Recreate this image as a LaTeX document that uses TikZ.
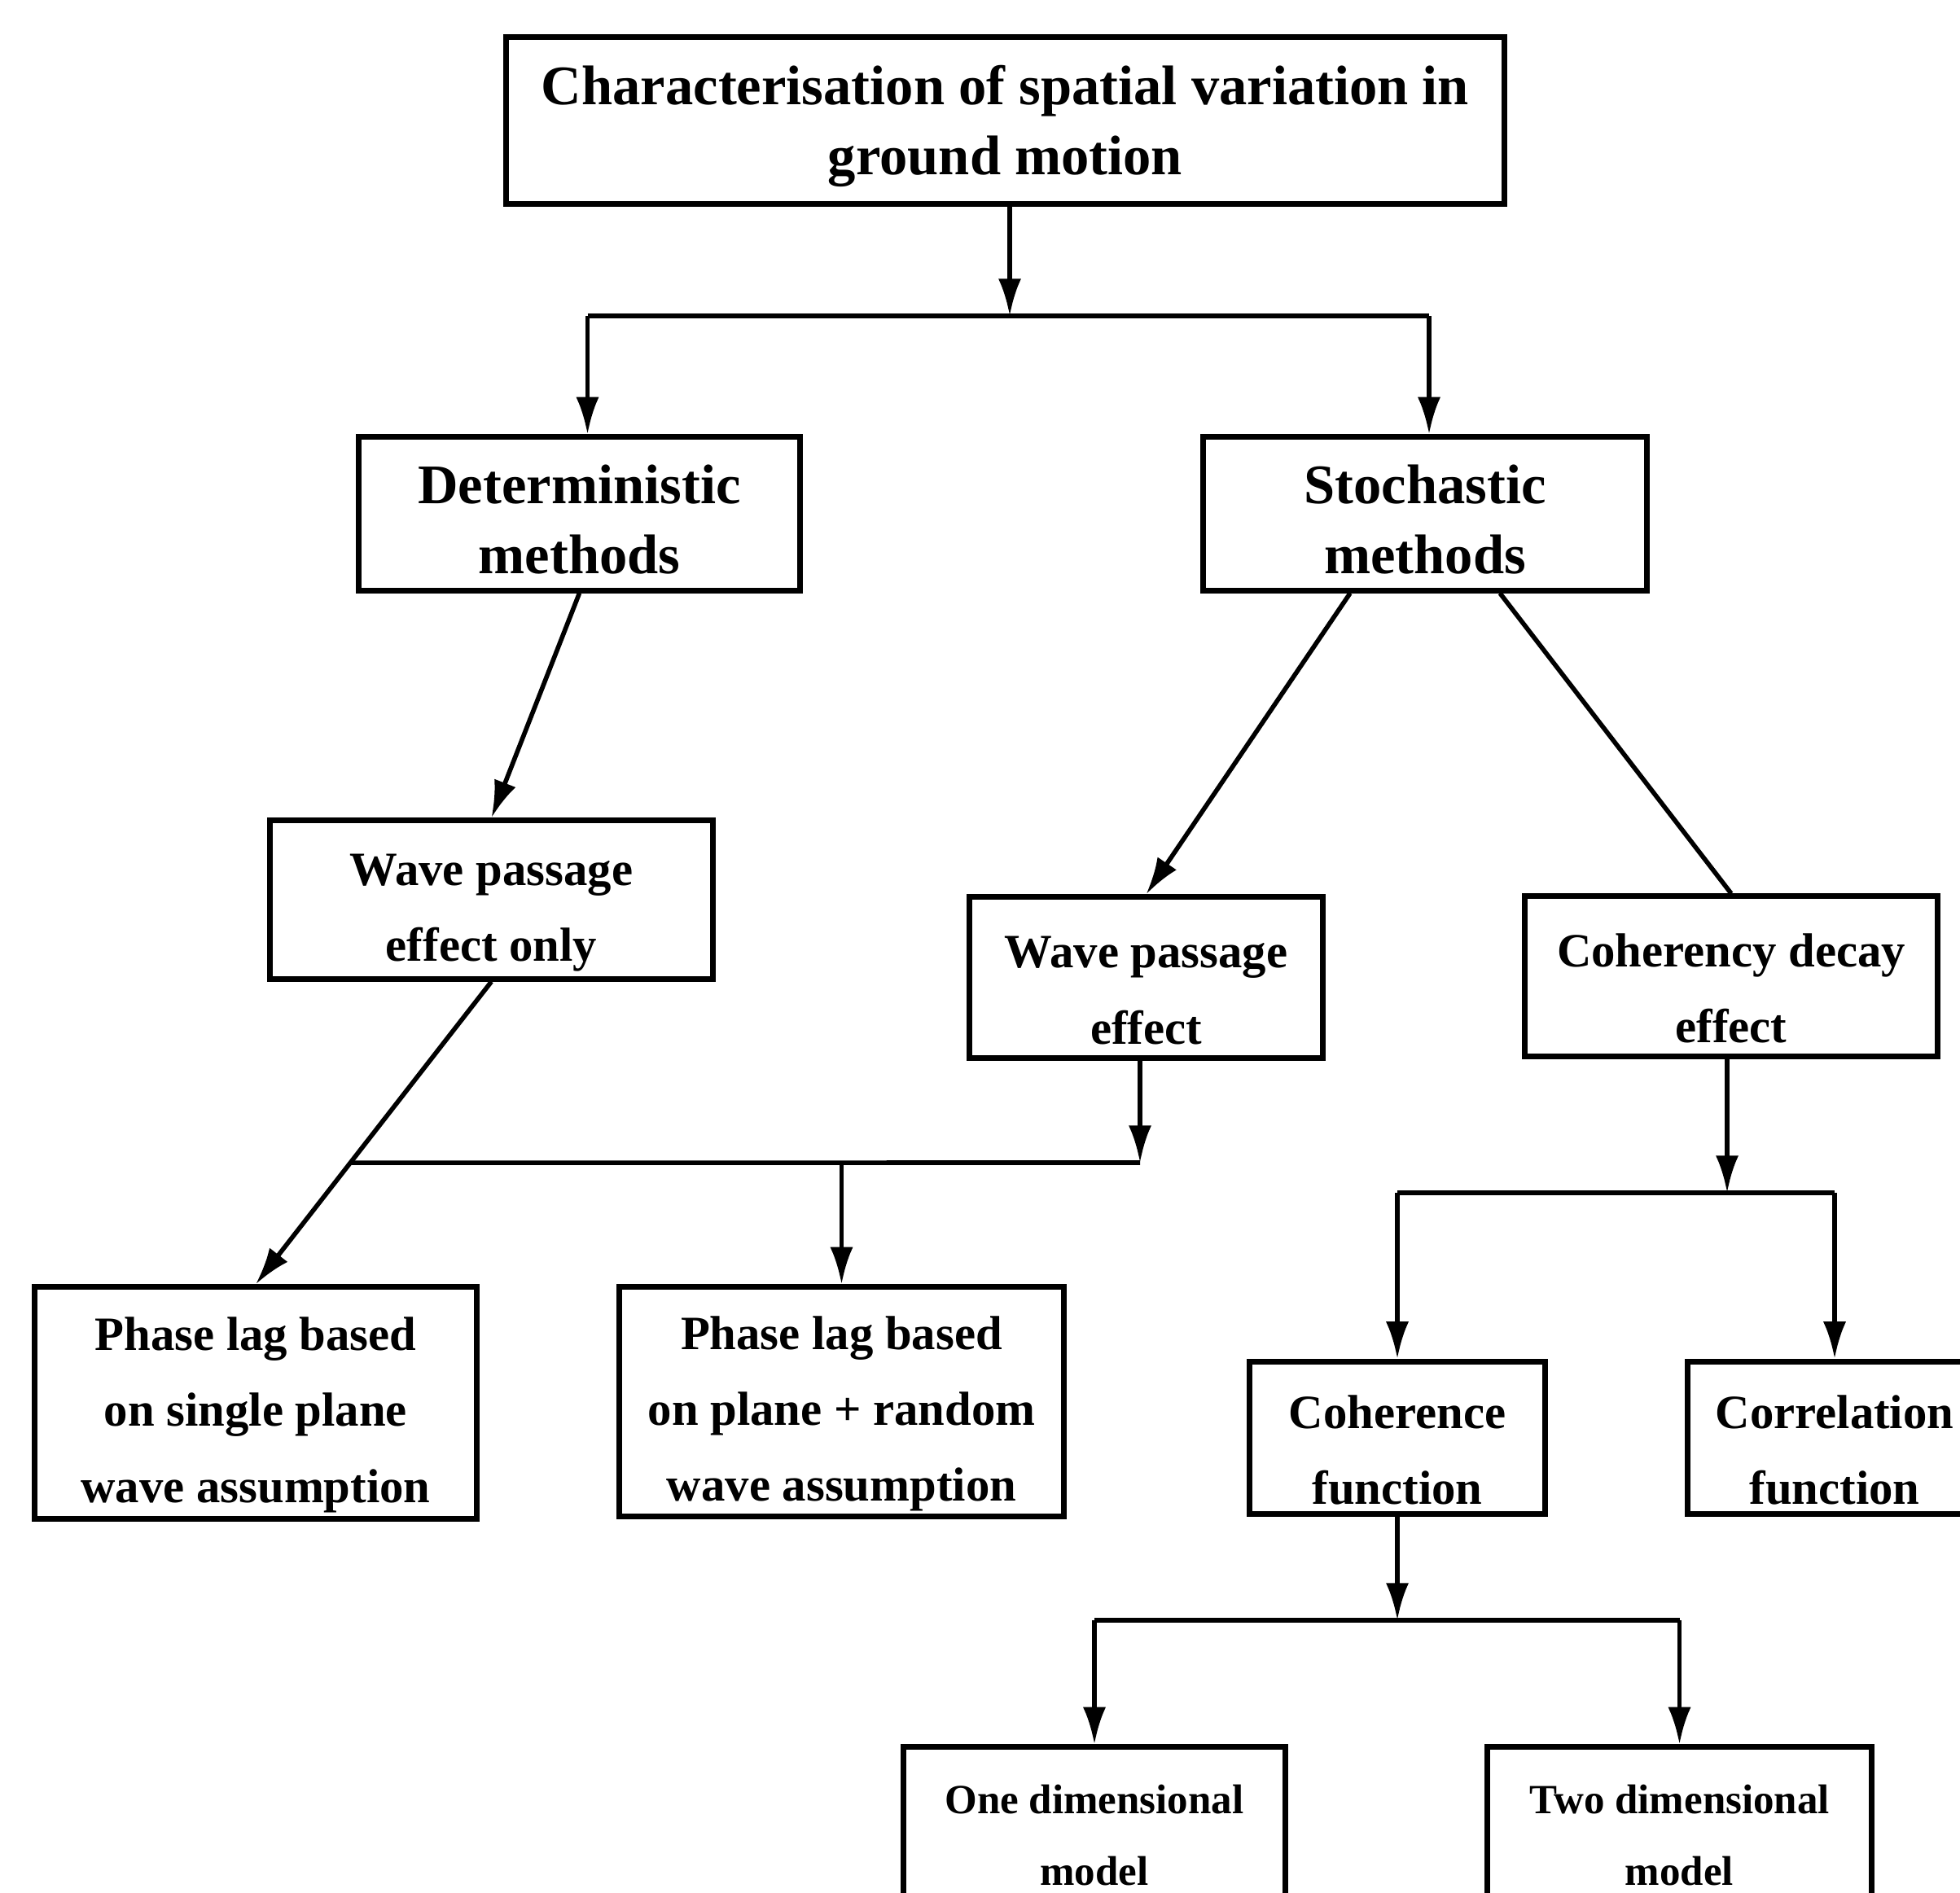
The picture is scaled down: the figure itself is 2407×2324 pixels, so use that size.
\documentclass[tikz,border=0pt]{standalone}
\usepackage{fontspec}
\setmainfont{Liberation Serif}
\usetikzlibrary{arrows.meta,calc}
\newcommand{\myStrutB}{\rule{0pt}{17.5pt}}
\newcommand{\myStrutM}{\rule{0pt}{20pt}}
\begin{document}
\begin{tikzpicture}[x=0.01cm,y=-0.01cm,
  box/.style={draw, line width=2pt, align=center, inner sep=0pt},
  big/.style={font=\fontsize{19.5}{24.5}\selectfont\bfseries},
  mid/.style={font=\fontsize{16.7}{26.5}\selectfont\bfseries},
  sml/.style={font=\fontsize{14.5}{25}\selectfont\bfseries},
  con/.style={line width=1.6pt},
  arr/.style={line width=1.6pt, -{Latex[length=13pt,width=8pt]}}]
\useasboundingbox (0,0) rectangle (2407,2324);
\fill[white] (0,0) rectangle (2407,2324);
\clip (0,0) rectangle (2407,2324);

\node[box,big,minimum width=12.25cm,minimum height=2.04cm] (top) at (1234.5,148)
  {\myStrutB Characterisation of spatial variation in\\ground motion};
\node[box,big,minimum width=5.41cm,minimum height=1.88cm] (det) at (711.5,631)
  {\myStrutB Deterministic\\methods};
\node[box,big,minimum width=5.44cm,minimum height=1.88cm] (sto) at (1750,631)
  {\myStrutB Stochastic\\methods};
\node[box,mid,minimum width=5.43cm,minimum height=1.94cm] (wpo) at (603.5,1105)
  {\myStrutM Wave passage\\effect only};
\node[box,mid,minimum width=4.33cm,minimum height=1.97cm] (wpe) at (1407.5,1200.5)
  {\myStrutM Wave passage\\effect};
\node[box,mid,minimum width=5.06cm,minimum height=1.96cm] (coh) at (2126,1199)
  {\myStrutM Coherency decay\\effect};
\node[box,mid,minimum width=5.42cm,minimum height=2.84cm] (pls) at (314,1723)
  {\myStrutM Phase lag based\\on single plane\\wave assumption};
\node[box,mid,minimum width=5.45cm,minimum height=2.81cm] (plp) at (1033.5,1721.5)
  {\myStrutM Phase lag based\\on plane + random\\wave assumption};
\node[box,mid,minimum width=3.62cm,minimum height=1.87cm] (cohf) at (1716,1766)
  {\myStrutM Coherence\\function};
\node[box,mid,minimum width=3.60cm,minimum height=1.87cm] (corr) at (2253,1766)
  {\myStrutM Correlation\\function};
\node[box,sml,minimum width=4.68cm,minimum height=2.16cm] (one) at (1344,2254)
  {One dimensional\\model};
\node[box,sml,minimum width=4.71cm,minimum height=2.16cm] (two) at (2062.5,2254)
  {Two dimensional\\model};

% level 1
\coordinate (j1) at (1240,388);
\coordinate (dl) at ($(det.north)+(10,0)$);
\coordinate (sr) at ($(sto.north)+(5,0)$);
\draw[arr] (j1 |- top.south) -- (j1);
\draw[con] (dl |- j1) -- (sr |- j1);
\draw[arr] (dl |- j1) -- (dl);
\draw[arr] (sr |- j1) -- (sr);

% level 2
\draw[arr] (det.south) -- (wpo.north);
\draw[arr] ($(sto.south)+(-92,0)$) -- (wpe.north);
\draw[con] ($(sto.south)+(92,0)$) -- (coh.north);

% level 3 left
\coordinate (bw) at (1400,1428);
\coordinate (bq) at (1000,1428);
\coordinate (bx) at (intersection of wpo.south--pls.north and bw--bq);
\draw[arr] (wpo.south) -- (pls.north);
\draw[arr] (bw |- wpe.south) -- (bw);
\draw[con] (bw) -- (bx);
\draw[arr] (plp.north |- bw) -- (plp.north);

% level 3 right
\coordinate (j2) at (2121,1465);
\draw[arr] (j2 |- coh.south) -- (j2);
\draw[con] (cohf.north |- j2) -- (corr.north |- j2);
\draw[arr] (cohf.north |- j2) -- (cohf.north);
\draw[arr] (corr.north |- j2) -- (corr.north);

% level 4
\coordinate (j3) at (1716,1990);
\draw[arr] (cohf.south) -- (j3);
\draw[con] (one.north |- j3) -- (two.north |- j3);
\draw[arr] (one.north |- j3) -- (one.north);
\draw[arr] (two.north |- j3) -- (two.north);
\end{tikzpicture}
\end{document}
